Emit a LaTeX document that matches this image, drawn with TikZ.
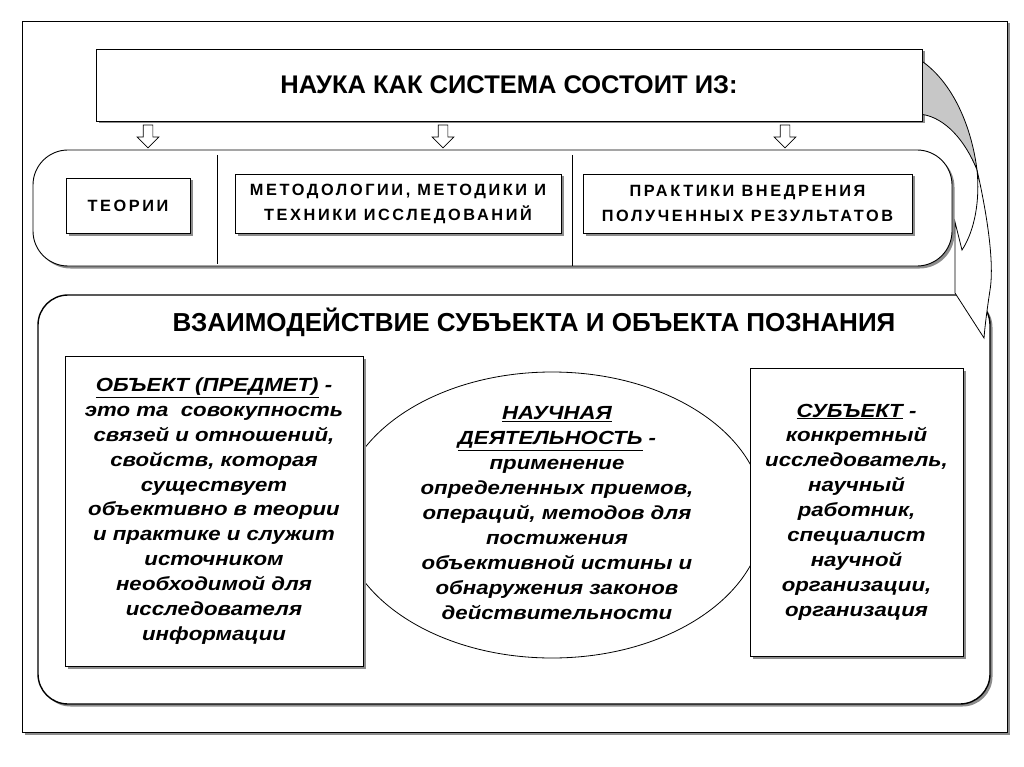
\documentclass[tikz,border=0pt]{standalone}
\usepackage{fontspec}
\setmainfont{Liberation Sans}
\newfontfamily\widefont{Liberation Sans}[FakeStretch=1.17]
\newfontfamily\spacedfont{Liberation Sans}[LetterSpace=16]
\usetikzlibrary{shapes.geometric,shapes.arrows,shadows,calc}
\tikzset{
  sh/.style={drop shadow={shadow xshift=2.5pt,shadow yshift=-2.5pt,fill=black!45,opacity=1}},
  box/.style={draw=black,line width=0.9pt,fill=white,sh,inner sep=0pt},
  rowtext/.style={font=\spacedfont\bfseries\fontsize{16.3}{25}\selectfont,align=center},
  body/.style={font=\widefont\bfseries\itshape\fontsize{19}{24.9}\selectfont,align=center},
  harrow/.style={single arrow,draw=black,line width=0.7pt,fill=white,shape border rotate=270,
    minimum height=23pt,inner sep=4.5pt,single arrow head extend=6pt},
}
\begin{document}
\begin{tikzpicture}[x=1pt,y=-1pt]
\useasboundingbox (0,0) rectangle (1024,767);
\fill[white] (0,0) rectangle (1024,767);
% outer frame
\node[box,minimum width=985pt,minimum height=711pt] (frame) at (514.5,376.5) {};
% top box
\node[box,minimum width=826pt,minimum height=72pt,font=\bfseries\fontsize{25.5}{28}\selectfont] (top) at (509,85) {НАУКА КАК СИСТЕМА СОСТОИТ ИЗ:};
% row
\node[box,rounded corners=35pt,minimum width=919pt,minimum height=116pt] (row) at (492.5,208) {};
\draw[line width=0.9pt] (217,155) -- (217,264);
\draw[line width=0.9pt] (572,155) -- (572,266);
\node[box,minimum width=124pt,minimum height=55pt,rowtext] (teor) at (128,205.5) {ТЕОРИИ};
\node[box,minimum width=326pt,minimum height=59pt,rowtext] (metod) at (398,203.5) {МЕТОДОЛОГИИ, МЕТОДИКИ И\\ТЕХНИКИ ИССЛЕДОВАНИЙ};
\node[box,minimum width=329pt,minimum height=59pt,rowtext] (prakt) at (747.5,203.5) {ПРАКТИКИ ВНЕДРЕНИЯ\\ПОЛУЧЕННЫХ РЕЗУЛЬТАТОВ};
% hollow arrows
\node[harrow] (a1) at (148,134) {};
\node[harrow] (a2) at (443,134) {};
\node[harrow] (a3) at (785,134) {};
% big rect
\node[box,line width=1.4pt,rounded corners=30pt,minimum width=952pt,minimum height=409pt] (big) at (514,499.5) {};
\node[font=\bfseries\fontsize{26}{28}\selectfont] (vz) at (534,322) {ВЗАИМОДЕЙСТВИЕ СУБЪЕКТА И ОБЪЕКТА ПОЗНАНИЯ};
% ellipse
\node[ellipse,draw=black,line width=0.8pt,fill=white,minimum width=424pt,minimum height=286pt,inner sep=0pt] (ell) at (552,515) {};
\node[body] (elltext) at (557,513) {\underline{НАУЧНАЯ}\\\underline{ДЕЯТЕЛЬНОСТЬ} -\\применение\\определенных приемов,\\операций, методов для\\постижения\\объективной истины и\\обнаружения законов\\действительности};
% left box
\node[box,minimum width=298pt,minimum height=310pt,body] (obj) at (214,511) {\underline{ОБЪЕКТ (ПРЕДМЕТ)} -\\это та\ \ совокупность\\связей и отношений,\\свойств, которая\\существует\\объективно в теории\\и практике и служит\\источником\\необходимой для\\исследователя\\информации};
% right box
\node[box,minimum width=213pt,minimum height=288pt,body] (subj) at (856.5,512) {\underline{СУБЪЕКТ} -\\конкретный\\исследователь,\\научный\\работник,\\специалист\\научной\\организации,\\организация};
% curved arrow
\coordinate (c1) at ($(top.north east)+(0,13)$);
\coordinate (c2) at ($(top.south east)+(0,-7)$);
\coordinate (cx) at (977,170);
\coordinate (tip) at (984,338);
\filldraw[fill=black!22,line width=0.8pt] (c1) .. controls (955,85) and (972,130) .. (cx)
   .. controls (965,140) and (945,118) .. (c2) -- cycle;
\filldraw[fill=white,line width=0.8pt] (cx) .. controls (985,205) and (995,260) .. (990,290)
   .. controls (987,310) and (985,325) .. (tip)
   -- (955,293) -- (955,222) -- (962,250) .. controls (975,230) and (980,200) .. (cx) -- cycle;
\end{tikzpicture}
\end{document}
